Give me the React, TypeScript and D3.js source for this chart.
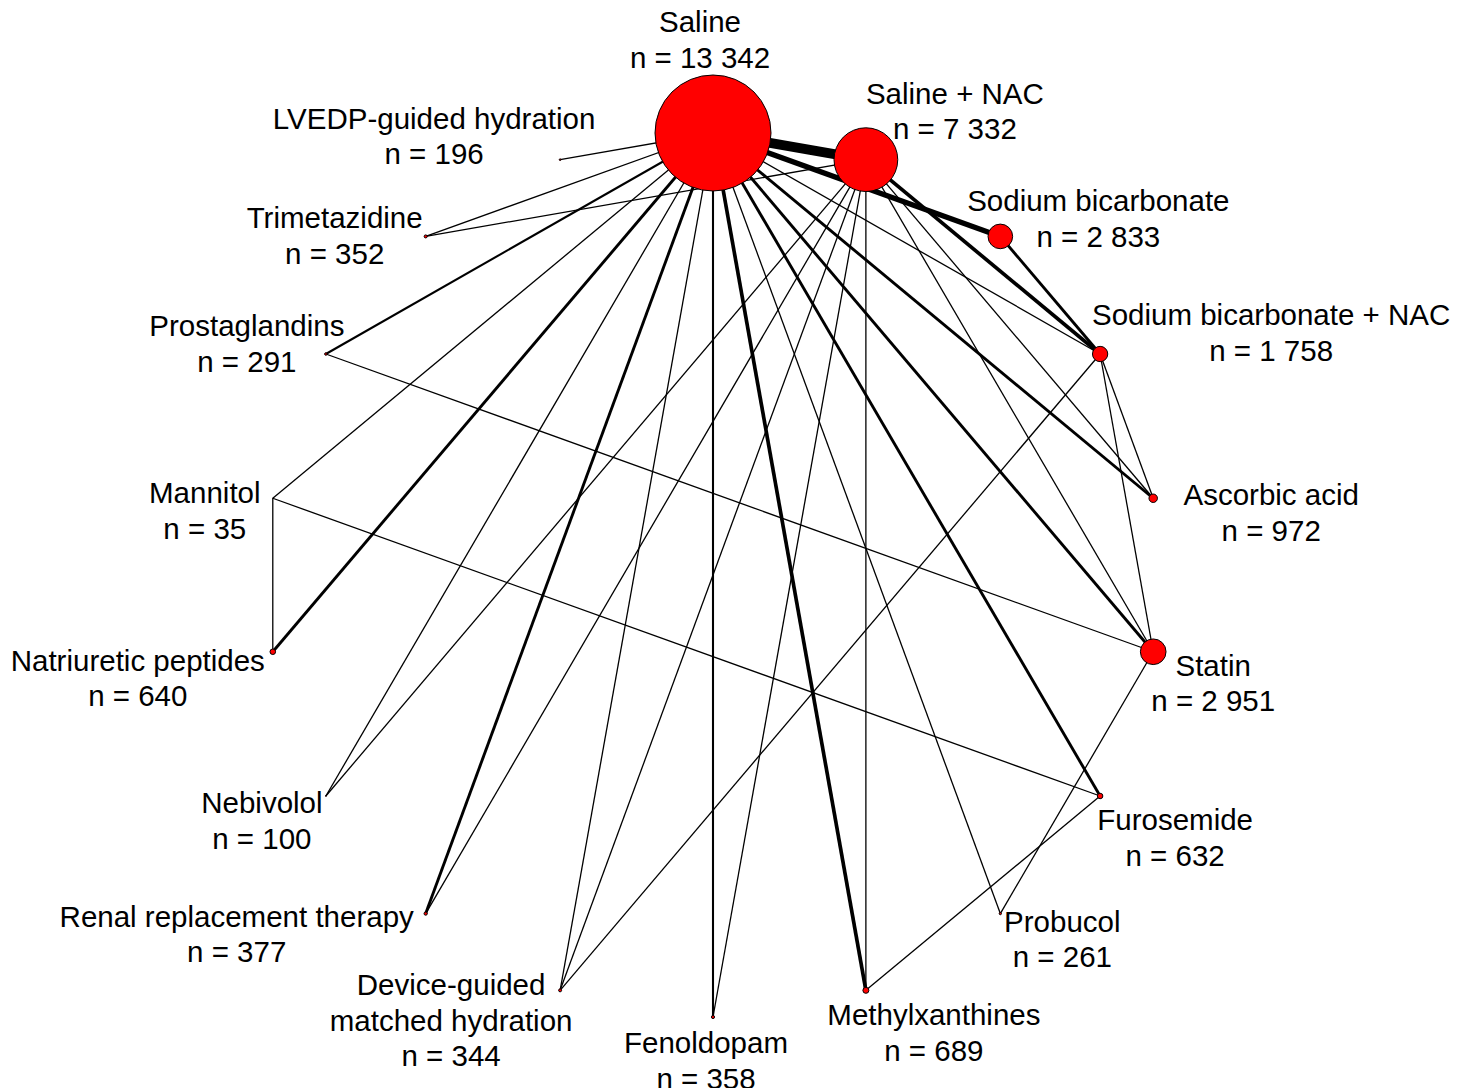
import * as d3 from 'd3'
import { useEffect, useRef } from 'react'

// treatments in clockwise order, starting at the top of the circle
const treatments = [
    'Saline', 'Saline + NAC', 'Sodium bicarbonate', 'Sodium bicarbonate + NAC',
    'Ascorbic acid', 'Statin', 'Furosemide', 'Probucol', 'Methylxanthines',
    'Fenoldopam', 'Device-guided matched hydration', 'Renal replacement therapy',
    'Nebivolol', 'Natriuretic peptides', 'Mannitol', 'Prostaglandins',
    'Trimetazidine', 'LVEDP-guided hydration'
]
const patients = [13342, 7332, 2833, 1758, 972, 2951, 632, 261, 689, 358, 344, 377, 100, 640, 35, 291, 352, 196]

// direct comparisons (number of trials sets the line width)
const edgeFrom = [
    'Saline', 'Saline', 'Saline', 'Saline', 'Saline', 'Saline', 'Saline', 'Saline', 'Saline',
    'Saline', 'Saline', 'Saline', 'Saline', 'Saline', 'Saline', 'Saline', 'Saline',
    'Saline + NAC', 'Saline + NAC', 'Saline + NAC', 'Saline + NAC', 'Saline + NAC',
    'Saline + NAC', 'Saline + NAC', 'Saline + NAC', 'Saline + NAC',
    'Sodium bicarbonate', 'Sodium bicarbonate + NAC', 'Sodium bicarbonate + NAC', 'Sodium bicarbonate + NAC',
    'Statin', 'Statin', 'Furosemide', 'Furosemide', 'Mannitol'
]
const edgeTo = [
    'Saline + NAC', 'Sodium bicarbonate', 'Sodium bicarbonate + NAC', 'Ascorbic acid', 'Statin',
    'Furosemide', 'Probucol', 'Methylxanthines', 'Fenoldopam', 'Device-guided matched hydration',
    'Renal replacement therapy', 'Nebivolol', 'Natriuretic peptides', 'Mannitol', 'Prostaglandins',
    'Trimetazidine', 'LVEDP-guided hydration',
    'Sodium bicarbonate + NAC', 'Ascorbic acid', 'Statin', 'Methylxanthines', 'Fenoldopam',
    'Device-guided matched hydration', 'Renal replacement therapy', 'Nebivolol', 'Trimetazidine',
    'Sodium bicarbonate + NAC', 'Ascorbic acid', 'Statin', 'Device-guided matched hydration',
    'Prostaglandins', 'Probucol', 'Mannitol', 'Methylxanthines', 'Natriuretic peptides'
]
const edgeTrials = [
    12, 6, 1, 3, 3, 3, 1, 4, 2, 1, 3, 1, 3, 1, 2, 1, 1,
    4, 1, 1, 1, 1, 1, 1, 1, 1,
    3, 1, 1, 1,
    1, 1, 1, 1, 1
]

// label text block: [dx of centre, dy of first baseline] from the node
const labelOffsets = [
    [-13, -101], [89, -56], [98, -25], [171, -29], [118, 7], [60, 24], [75, 34], [62, 18], [68, 35],
    [-7, 36], [-109, 5], [-189, 13], [-64, 17], [-135, 19], [-68, 5], [-79, -18], [-91, -8], [-126, -31]
]

export default function App() {
    const svgRef = useRef(null)
    const width = 1470, height = 1088

    useEffect(() => {
        const svg = d3.select(svgRef.current)
        svg.selectAll('*').remove()

        const cx = 713, cy = 575, rx = 447, ry = 442
        const angle = d3.scaleLinear()
            .domain([0, treatments.length])
            .range([-Math.PI / 2, 1.5 * Math.PI])

        const nodes = treatments.map((name, i) => ({
            name,
            n: patients[i],
            x: cx + rx * Math.cos(angle(i)),
            y: cy + ry * Math.sin(angle(i))
        }))
        const byName = new Map(nodes.map(d => [d.name, d]))

        const radius = d3.scaleLinear().domain([0, d3.max(patients)]).range([0, 58])
        const lineWidth = d3.scaleLinear().domain([1, 12]).range([1.3, 10])
        const fmt = d3.formatLocale({ decimal: '.', thousands: ' ', grouping: [3], currency: ['', ''] }).format(',')

        const edges = edgeFrom.map((f, i) => ({ s: byName.get(f), t: byName.get(edgeTo[i]), k: edgeTrials[i] }))

        svg.append('g')
            .selectAll('line')
            .data(edges)
            .join('line')
                .attr('x1', d => d.s.x)
                .attr('y1', d => d.s.y)
                .attr('x2', d => d.t.x)
                .attr('y2', d => d.t.y)
                .attr('stroke', 'black')
                .attr('stroke-width', d => lineWidth(d.k))

        svg.append('g')
            .selectAll('circle')
            .data(nodes)
            .join('circle')
                .attr('cx', d => d.x)
                .attr('cy', d => d.y)
                .attr('r', d => radius(d.n))
                .attr('fill', '#ff0000')
                .attr('stroke', 'black')
                .attr('stroke-width', 1)

        const labels = svg.append('g')
            .style('font-family', '"Liberation Sans", Arial, sans-serif')
            .style('font-size', '29.5px')
            .attr('fill', 'black')
            .attr('text-anchor', 'middle')
            .selectAll('text')
            .data(nodes)
            .join('text')
                .attr('transform', (d, i) => `translate(${d.x + labelOffsets[i][0]}, ${d.y + labelOffsets[i][1]})`)

        labels.selectAll('tspan')
            .data(d => {
                const lines = d.name === 'Device-guided matched hydration'
                    ? ['Device-guided', 'matched hydration']
                    : [d.name]
                return [...lines, `n = ${fmt(d.n)}`]
            })
            .join('tspan')
                .attr('x', 0)
                .attr('y', (d, i) => i * 35.5)
                .text(d => d)
    }, [])

    return (
        <svg
            ref={svgRef}
            width={width}
            height={height}
            style={{ position: 'absolute', left: 0, top: 0, background: 'white' }}
        />
    )
}
